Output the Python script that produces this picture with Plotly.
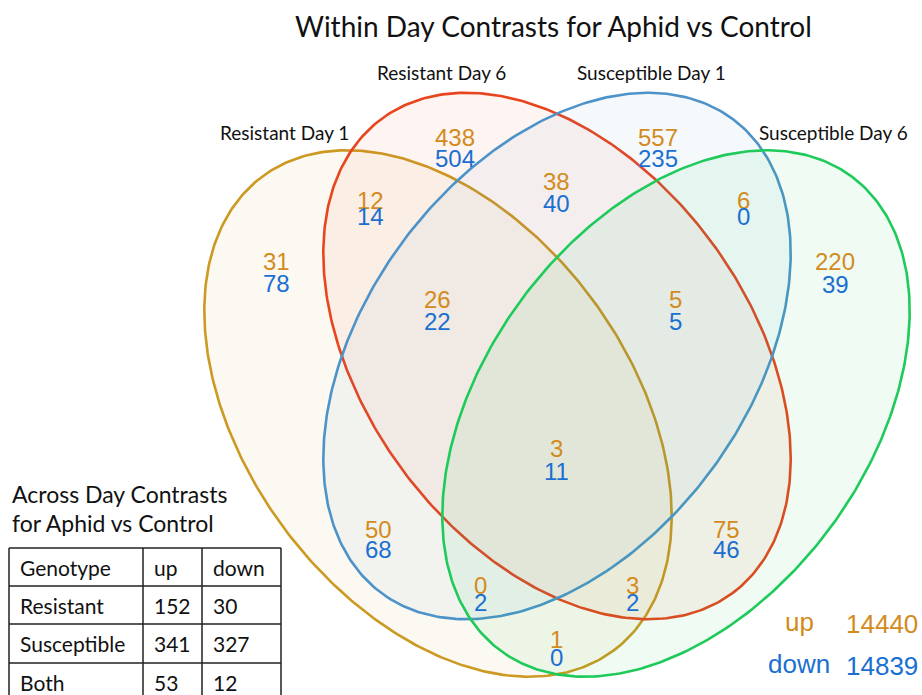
import numpy as np
import plotly.graph_objects as go

# ---------------- data ----------------
set_names = ["Resistant Day 1", "Resistant Day 6", "Susceptible Day 1", "Susceptible Day 6"]
region_keys = ["R1", "R6", "S1", "S6", "R1R6", "R6S1", "S1S6", "R1R6S1", "R6S1S6",
               "ALL", "R1S1", "R6S6", "R1S1S6", "R1R6S6", "R1S6"]
up_counts = [31, 438, 557, 220, 12, 38, 6, 26, 5, 3, 50, 75, 0, 3, 1]
down_counts = [78, 504, 235, 39, 14, 40, 0, 22, 5, 11, 68, 46, 2, 2, 0]

total_labels = ["up", "down"]
total_values = [14440, 14839]

table_header = ["Genotype", "up", "down"]
table_genotypes = ["Resistant", "Susceptible", "Both"]
table_up = [152, 341, 53]
table_down = [30, 327, 12]

title_text = "Within Day Contrasts for Aphid vs Control"
table_title = ["Across Day Contrasts", "for Aphid vs Control"]

# ---------------- layout / styling ----------------
W, H = 922, 695
UP_COLOR = "#D38B1C"
DOWN_COLOR = "#1A6FD1"
LABEL_FONT = "Lato"
NUM_FONT = "Liberation Sans"

ellipse_style = [
    dict(cx=438, cy=413.5, ang=53.5, line="#CC9A22", fill="rgba(204,154,34,0.06)"),
    dict(cx=557, cy=356, ang=53.5, line="#E8451E", fill="rgba(232,69,30,0.06)"),
    dict(cx=557, cy=356, ang=-53.5, line="#4D93C9", fill="rgba(77,147,201,0.06)"),
    dict(cx=676, cy=413.5, ang=-53.5, line="#1ECB5A", fill="rgba(30,203,90,0.07)"),
]
A_SEMI, B_SEMI = 295, 192

set_label_pos = [(284, 132), (441, 72), (651, 72), (833, 132)]

region_pos = {
    "R1": (276, 261, 283), "R6": (455, 137, 158), "S1": (658, 137, 158),
    "S6": (835, 261, 284), "R1R6": (370, 200, 216), "R6S1": (556, 181, 203),
    "S1S6": (743, 200, 216), "R1R6S1": (437, 299, 321), "R6S1S6": (675, 299, 321),
    "ALL": (556, 448, 471), "R1S1": (378, 529, 549), "R6S6": (726, 529, 549),
    "R1S1S6": (480, 585, 602), "R1R6S6": (632, 585, 602), "R1S6": (556, 639, 657),
}

fig = go.Figure()

t = np.linspace(0, 2 * np.pi, 400)
for name, st in zip(set_names, ellipse_style):
    th = np.deg2rad(st["ang"])
    ex = A_SEMI * np.cos(t)
    ey = B_SEMI * np.sin(t)
    xs = st["cx"] + ex * np.cos(th) - ey * np.sin(th)
    ys = st["cy"] + ex * np.sin(th) + ey * np.cos(th)
    fig.add_trace(go.Scatter(
        x=xs, y=ys, mode="lines", fill="toself", fillcolor=st["fill"],
        line=dict(color=st["line"], width=2.6), name=name, hoverinfo="skip",
        showlegend=False))

annotations = []
# title
annotations.append(dict(x=553, y=26, text=title_text, showarrow=False,
                        font=dict(family=LABEL_FONT, size=28, color="#111111"),
                        xanchor="center", yanchor="middle"))
# set labels
for name, (lx, ly) in zip(set_names, set_label_pos):
    annotations.append(dict(x=lx, y=ly, text=name, showarrow=False,
                            font=dict(family=LABEL_FONT, size=19, color="#111111"),
                            xanchor="center", yanchor="middle"))
# region counts
for key, u, d in zip(region_keys, up_counts, down_counts):
    px, pu, pd = region_pos[key]
    annotations.append(dict(x=px, y=pu, text=str(u), showarrow=False,
                            font=dict(family=NUM_FONT, size=24, color=UP_COLOR),
                            xanchor="center", yanchor="middle"))
    annotations.append(dict(x=px, y=pd, text=str(d), showarrow=False,
                            font=dict(family=NUM_FONT, size=24, color=DOWN_COLOR),
                            xanchor="center", yanchor="middle"))
# totals
for lab, val, col, yy in zip(total_labels, total_values, [UP_COLOR, DOWN_COLOR], [622, 664]):
    annotations.append(dict(x=799, y=yy, text=lab, showarrow=False,
                            font=dict(family=NUM_FONT, size=26, color=col),
                            xanchor="center", yanchor="middle"))
    annotations.append(dict(x=920, y=yy + 2, text=str(val), showarrow=False,
                            font=dict(family=NUM_FONT, size=26, color=col),
                            xanchor="right", yanchor="middle"))

# table title
for i, line in enumerate(table_title):
    annotations.append(dict(x=10, y=494 + 29 * i, text=line, showarrow=False,
                            font=dict(family=LABEL_FONT, size=23, color="#111111"),
                            xanchor="left", yanchor="middle"))

# table
col_x = [9, 143, 202, 281]
row_y = [548, 586, 624, 663, 702]
shapes = []
for yy in row_y[:-1]:
    shapes.append(dict(type="line", x0=col_x[0], x1=col_x[-1], y0=yy, y1=yy,
                       xref="x", yref="y", line=dict(color="#222222", width=1.5)))
for xx in col_x:
    shapes.append(dict(type="line", x0=xx, x1=xx, y0=row_y[0], y1=row_y[-1],
                       xref="x", yref="y", line=dict(color="#222222", width=1.5)))

rows = [table_header] + [[g, str(u), str(d)] for g, u, d in zip(table_genotypes, table_up, table_down)]
for ri, row in enumerate(rows):
    yc = (row_y[ri] + row_y[ri + 1]) / 2 if ri < 3 else row_y[ri] + 19
    for ci, cell in enumerate(row):
        annotations.append(dict(x=col_x[ci] + 9, y=yc, text=cell, showarrow=False,
                                font=dict(family=LABEL_FONT, size=21, color="#111111"),
                                xanchor="left", yanchor="middle"))

fig.update_layout(
    width=W, height=H,
    margin=dict(l=0, r=0, t=0, b=0),
    paper_bgcolor="white", plot_bgcolor="white",
    xaxis=dict(range=[0, W], visible=False, fixedrange=True),
    yaxis=dict(range=[H, 0], visible=False, fixedrange=True),
    annotations=annotations, shapes=shapes,
    showlegend=False,
)

fig.write_html("out.html", config={"displayModeBar": False},
               post_script="document.body.style.margin='0';document.body.style.overflow='hidden';")
